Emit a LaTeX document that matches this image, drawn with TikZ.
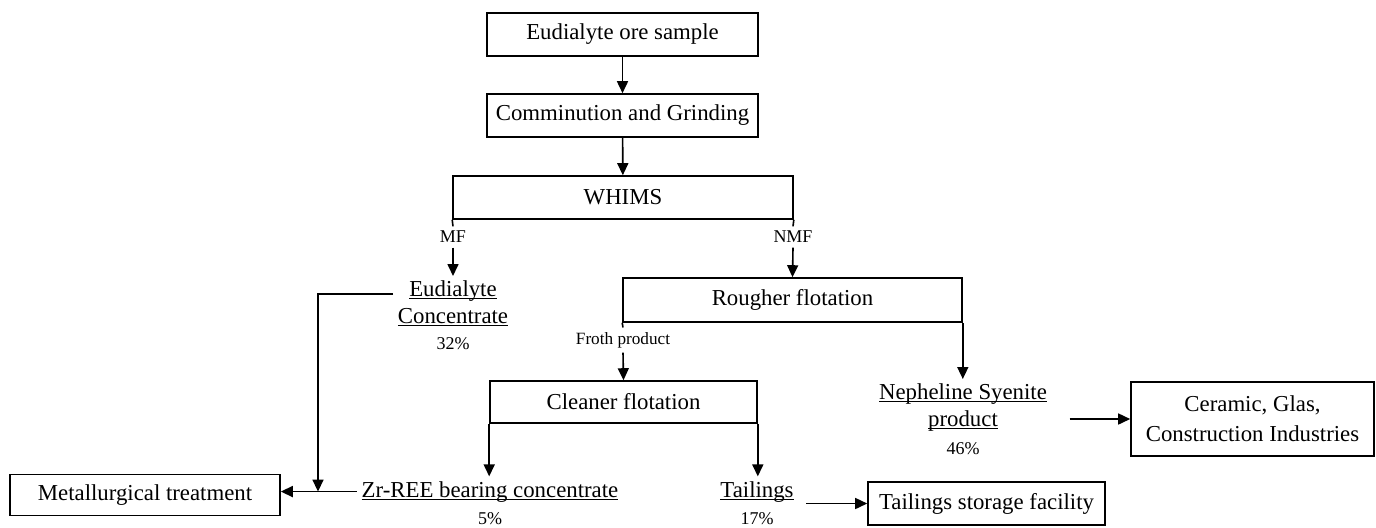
\documentclass[tikz,border=0pt]{standalone}
\usepackage{fontspec}
\setmainfont{Liberation Serif}
\usetikzlibrary{arrows.meta}

\newcommand{\undl}[1]{\setbox0=\hbox{#1}\rlap{\rule[-1.3pt]{\wd0}{0.55pt}}\box0}

\begin{document}
\begin{tikzpicture}[x=0.5pt, y=-0.5pt, line width=0.8pt,
  box/.style={draw, inner sep=0pt, align=center, font=\fontsize{11.4}{13.5}\selectfont},
  txt/.style={inner sep=2pt, align=center, font=\fontsize{11.4}{13.5}\selectfont},
  lbl/.style={inner sep=2pt, font=\fontsize{9}{10}\selectfont},
  arr/.style={-{Triangle[length=6pt, width=5.5pt]}}]
  \useasboundingbox (0,0) rectangle (1376,527);

  \coordinate (jx) at (318, 0);
  \coordinate (ey) at (0, 294);

  % 流程方框
  \node[box, minimum width=135.5pt, minimum height=21.5pt] (ore)   at (622.5, 34.5)  {Eudialyte ore sample};
  \node[box, minimum width=135.5pt, minimum height=21.5pt] (comm)  at (622.5, 115.5) {Comminution and Grinding};
  \node[box, minimum width=170pt,   minimum height=21.5pt] (whims) at (623, 197.5)   {WHIMS};
  \node[box, minimum width=169.5pt, minimum height=22pt]   (rough) at (792.5, 300)   {Rougher flotation};
  \node[box, minimum width=133.5pt, minimum height=21pt]   (clean) at (623.5, 402)   {Cleaner flotation};
  \node[box, minimum width=135pt,   minimum height=20.5pt] (metal) at (145, 495)     {Metallurgical treatment};
  \node[box, minimum width=118.5pt, minimum height=21.5pt] (store) at (986.5, 503.5) {Tailings storage facility};
  \node[box, minimum width=121.5pt, minimum height=37pt, font=\fontsize{11.4}{15}\selectfont]
       (ceram) at (1252.5, 419) {Ceramic, Glas,\\Construction Industries};

  % 产品
  \node[txt, anchor=north] (eud)  at (453, 276) {\undl{Eudialyte}\\\undl{Concentrate}};
  \node[txt, anchor=north] (neph) at (963, 379) {\undl{Nepheline Syenite}\\\undl{product}};
  \node[txt, anchor=base]  (zr)   at (490, 497) {\undl{Zr-REE bearing concentrate}};
  \node[txt, anchor=base]  (tail) at (757, 497) {\undl{Tailings}};

  \node[lbl, anchor=base] (eudpct)  at (453, 349) {32\%};
  \node[lbl, anchor=base] (nephpct) at (963, 454) {46\%};
  \node[lbl, anchor=base] (zrpct)   at (490, 524) {5\%};
  \node[lbl, anchor=base] (tailpct) at (757, 524) {17\%};

  % 分支标注
  \node[lbl] (mf)    at (453, 237) {MF};
  \node[lbl] (nmf)   at (793, 237) {NMF};
  \node[lbl, font=\fontsize{8.6}{10}\selectfont] (froth) at (623, 340) {Froth product};

  % 连线
  \draw[arr] (ore) -- (comm);
  \draw[arr] (comm) -- (whims);
  \draw (whims.south west) -- (mf.north);
  \draw[arr] (mf.south) -- (eud.north);
  \draw (whims.south east) -- (nmf.north);
  \draw[arr] (nmf.south) -- (rough.north);
  \draw (rough.south west) -- (froth.north);
  \draw[arr] (froth.south) -- (clean.north);
  \draw[arr] (rough.south east) -- (rough.south east |- neph.north);
  \draw[arr] (clean.south west) -- (clean.south west |- zr.north);
  \draw[arr] (clean.south east) -- (clean.south east |- tail.north);

  \draw[arr] (eud.west |- ey) -| (zr.west -| jx);
  \draw[arr] (zr.west) -- (zr.west -| metal.east);
  \draw[arr, shorten <=4pt] (tail.east |- store.west) -- (store.west);
  \draw[arr, shorten <=9pt] (neph.east |- ceram.west) -- (ceram.west);
\end{tikzpicture}
\end{document}
